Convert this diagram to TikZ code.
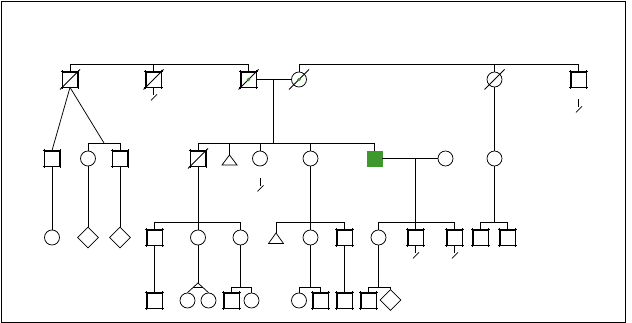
\documentclass[tikz,border=0pt]{standalone}
\usetikzlibrary{shapes.geometric,calc}
\definecolor{aff}{RGB}{62,152,46}
\newcommand{\kmark}[2]{\draw ($(#1.south)+(0,#2)$) -- ++(0,8); \draw ($(#1.south)+(-2.5,#2+13)$) -- ++(6,-6);}
\newcommand{\dslash}[1]{\draw ($(#1)+(-10,10)$) -- ($(#1)+(10,-10)$);}
\newcommand{\ticks}[1]{\draw ([xshift=-1.6pt]#1.north west) -- ([xshift=1.6pt]#1.north east)
  ([xshift=-1.6pt]#1.south west) -- ([xshift=1.6pt]#1.south east)
  ([yshift=1.6pt]#1.north west) -- ([yshift=-1.6pt]#1.south west)
  ([yshift=1.6pt]#1.north east) -- ([yshift=-1.6pt]#1.south east);}
\begin{document}
\begin{tikzpicture}[x=1pt,y=-1pt,line width=0.75pt,
  male/.style={rectangle,draw,minimum size=15pt,inner sep=0pt},
  female/.style={circle,draw,minimum size=15pt,inner sep=0pt},
  unk/.style={diamond,draw,minimum width=21pt,minimum height=21pt,inner sep=0pt},
  affected/.style={rectangle,draw=aff,fill=aff,minimum size=15pt,inner sep=0pt}]
\useasboundingbox (0,0) rectangle (632,323);
\draw (1.5,1.5) rectangle (625.5,322);
% level coordinates
\coordinate (s1) at (0,64);
\coordinate (s2) at (0,143);
\coordinate (s3) at (0,222);
\coordinate (s4) at (0,287);
% row 1
\node[male] (A1) at (70,79.5) {};
\node[male] (A2) at (153.5,79.5) {};
\node[male] (A3) at (248.5,79.5) {};
\node[female] (A4) at (299,79.5) {};
\node[female] (A5) at (494.5,79.5) {};
\node[male] (A6) at (578.5,79.5) {};
% row 2
\node[male] (B1) at (52,158.5) {};
\node[female] (B2) at (88,158.5) {};
\node[male] (B3) at (120,158.5) {};
\node[male] (B4) at (198,158.5) {};
\coordinate (B5) at (229.5,155);
\draw (B5) -- ++(7.5,10) -- ++(-15,0) -- cycle;
\node[female] (B6) at (260,158.5) {};
\node[female] (B7) at (310.5,158.5) {};
\node[affected] (B8) at (374.5,158.5) {};
\node[female] (B9) at (445.5,158.5) {};
\node[female] (B10) at (494.5,158.5) {};
% row 3
\node[female] (C1) at (52,237.5) {};
\node[unk] (C2) at (88,237.5) {};
\node[unk] (C3) at (120,237.5) {};
\node[male] (C4) at (154.5,237.5) {};
\node[female] (C5) at (198,237.5) {};
\node[female] (C6) at (240.5,237.5) {};
\coordinate (C7) at (276,233);
\draw (C7) -- ++(7.5,10.5) -- ++(-15,0) -- cycle;
\node[female] (C8) at (310.5,237.5) {};
\node[male] (C9) at (344.5,237.5) {};
\node[female] (C10) at (378.5,237.5) {};
\node[male] (C11) at (415.5,237.5) {};
\node[male] (C12) at (454.5,237.5) {};
\node[male] (C13) at (480.5,237.5) {};
\node[male] (C14) at (507.5,237.5) {};
% row 4
\node[male] (D1) at (154.5,300.5) {};
\node[female] (D2) at (187.5,300.5) {};
\node[female] (D3) at (208.5,300.5) {};
\node[male] (D4) at (231.5,300.5) {};
\node[female] (D5) at (251.5,300.5) {};
\node[female] (D6) at (299,300.5) {};
\node[male] (D7) at (320.5,300.5) {};
\node[male] (D8) at (344.5,300.5) {};
\node[male] (D9) at (368.5,300.5) {};
\node[unk] (D10) at (390.5,300) {};
% square corner ticks
\foreach \n in {A1,A2,A3,A6,B1,B3,B4,C4,C9,C11,C12,C13,C14,D1,D4,D7,D8,D9} {\ticks{\n}}
% deceased
\dslash{A1} \dslash{A2} \dslash{A3} \dslash{A4} \dslash{A5} \dslash{B4}
\fill[aff] (A3) circle (1.8pt);
\fill[aff] (A4) circle (1.8pt);
% marks
\kmark{A2}{0} \kmark{A6}{12} \kmark{B6}{12} \kmark{C11}{0} \kmark{C12}{0}
% row 1 sibships
\draw (A1.north) -- (A1.north |- s1) -- (A3.north |- s1) -- (A3.north);
\draw (A2.north) -- (A2.north |- s1);
\draw (A4.north) -- (A4.north |- s1) -- (A6.north |- s1) -- (A6.north);
\draw (A5.north) -- (A5.north |- s1);
% A3 x A4
\draw (A3.east) -- (A4.west);
\coordinate (m1) at ($(A3.east)!0.5!(A4.west)$);
\draw (m1) -- (m1 |- s2);
\draw (B4.north |- s2) -- (B8.north |- s2);
\foreach \n in {B4,B6,B7,B8} {\draw (\n.north) -- (\n.north |- s2);}
\draw (B5) -- (B5 |- s2);
% A1 offspring
\draw (B2.north) -- (B2.north |- s2) -- (B3.north |- s2) -- (B3.north);
\coordinate (j1) at ($(B2.north |- s2)!0.5!(B3.north |- s2)$);
\draw (A1.south) -- (B1.north);
\draw (A1.south) -- (j1);
\draw (B1.south) -- (C1.north);
\draw (B2.south) -- (C2.north);
\draw (B3.south) -- (C3.north);
% A5 -> B10
\draw (A5.south) -- (B10.north);
% B4 offspring
\draw (B4.south) -- (B4.south |- s3);
\draw (C4.north |- s3) -- (C6.north |- s3);
\foreach \n in {C4,C5,C6} {\draw (\n.north) -- (\n.north |- s3);}
% B7 offspring
\draw (B7.south) -- (B7.south |- s3);
\draw (C7 |- s3) -- (C9.north |- s3);
\draw (C7) -- (C7 |- s3);
\foreach \n in {C8,C9} {\draw (\n.north) -- (\n.north |- s3);}
% B8 x B9
\draw (B8.east) -- (B9.west);
\coordinate (m2) at ($(B8.east)!0.6!(B9.west)$);
\draw (m2) -- (m2 |- s3);
\draw (C10.north |- s3) -- (C12.north |- s3);
\foreach \n in {C10,C11,C12} {\draw (\n.north) -- (\n.north |- s3);}
% B10 offspring
\draw (B10.south) -- (B10.south |- s3);
\draw (C13.north |- s3) -- (C14.north |- s3);
\foreach \n in {C13,C14} {\draw (\n.north) -- (\n.north |- s3);}
% row 4
\draw (C4.south) -- (D1.north);
\coordinate (t1) at (198,283);
\draw (C5.south) -- (t1);
\draw (D2.north) -- (t1) -- (D3.north);
\draw ($(t1)!0.45!(D2.north)$) -- ($(t1)!0.45!(D3.north)$);
\draw (C6.south) -- (C6.south |- s4);
\draw (D4.north |- s4) -- (D5.north |- s4);
\foreach \n in {D4,D5} {\draw (\n.north) -- (\n.north |- s4);}
\draw (C8.south) -- (C8.south |- s4);
\draw (D6.north |- s4) -- (D7.north |- s4);
\foreach \n in {D6,D7} {\draw (\n.north) -- (\n.north |- s4);}
\draw (C9.south) -- (D8.north);
\draw (C10.south) -- (C10.south |- s4);
\draw (D9.north |- s4) -- (D10.north |- s4);
\foreach \n in {D9,D10} {\draw (\n.north) -- (\n.north |- s4);}
\end{tikzpicture}
\end{document}
